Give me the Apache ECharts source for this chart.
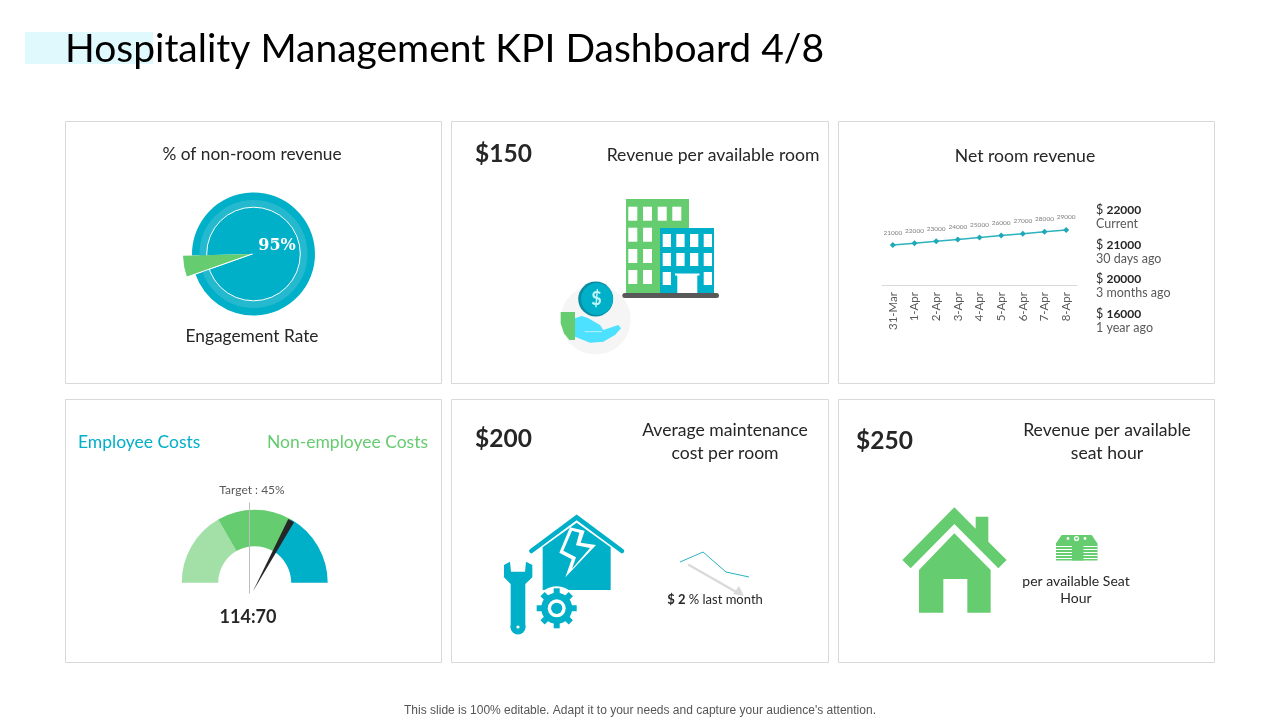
<!DOCTYPE html>
<html>
<head>
<meta charset="utf-8">
<title>Hospitality Management KPI Dashboard</title>
<script src="https://cdn.jsdelivr.net/npm/echarts@6/dist/echarts.min.js"></script>
<style>
html,body{margin:0;padding:0;background:#fff}
#main{width:1280px;height:720px}
</style>
</head>
<body>
<div id="main"></div>
<script>
// data
var revenueDays = ['31-Mar','1-Apr','2-Apr','3-Apr','4-Apr','5-Apr','6-Apr','7-Apr','8-Apr'];
var netRevenue = [21000,22000,23000,24000,25000,26000,27000,28000,29000];
var revenueHistory = [22000,21000,20000,16000];
var historyLabels = ['Current','30 days ago','3 months ago','1 year ago'];
var engagement = [95,5];
var costZones = [60,60,60];
var maintenanceDays = ['a','b','c','d'];
var maintenanceTrend = [3.5,4.5,2.5,2];

var TEAL = '#00AFC8', GREEN = '#66CC70', LIGHTGREEN = '#A3E0A8', INK = '#262626';
var FONT = 'Lato';

var g = [];
function text(x,y,s,size,color,align,extra){
    var st = {x:x,y:y,text:s,fontSize:size,fill:color||INK,fontFamily:FONT,align:align||'center',verticalAlign:'middle'};
    for (var k in extra) st[k] = extra[k];
    g.push({type:'text',z:50,silent:true,style:st});
}
function rect(x,y,w,h,fill,r,z){
    g.push({type:'rect',z:z||20,silent:true,shape:{x:x,y:y,width:w,height:h,r:r||0},style:{fill:fill}});
}
function circle(x,y,r,fill,stroke,lw,z){
    g.push({type:'circle',z:z||20,silent:true,shape:{cx:x,cy:y,r:r},style:{fill:fill||'none',stroke:stroke||null,lineWidth:lw||0}});
}
// polygons are noted in zoomed crop coordinates, so scale back here
function zoomed(ox,oy,pts){ return pts.map(function(p){return [ox+p[0]/3,oy+p[1]/3];}); }
function poly(points,fill,z){
    g.push({type:'polygon',z:z||20,silent:true,shape:{points:points},style:{fill:fill}});
}
function line(points,stroke,lw,z){
    g.push({type:'polyline',z:z||20,silent:true,shape:{points:points},style:{stroke:stroke,lineWidth:lw,fill:'none',lineCap:'round',lineJoin:'miter'}});
}

// header + footer
rect(25,32,128,32,'#DFF9FD',0,1);
text(65,49,'Hospitality Management KPI Dashboard 4/8',39,'#000','left');
text(640,711,"This slide is 100% editable. Adapt it to your needs and capture your audience's attention.",12,'#555','center',{fontFamily:'Liberation Sans'});

// cards
[[65,121,376,262],[451,121,377,262],[838,121,376,262],[65,399,376,263],[451,399,377,263],[838,399,376,263]].forEach(function(c){
    g.push({type:'rect',z:0,silent:true,shape:{x:c[0]+0.5,y:c[1]+0.5,width:c[2],height:c[3]},style:{fill:'#fff',stroke:'#D9D9D9',lineWidth:1}});
});

// card titles
text(252,154.5,'% of non-room revenue',17.3);
text(252,336,'Engagement Rate',17.3);
text(475,154,'$150',24.5,INK,'left',{fontWeight:'bold'});
text(713,155,'Revenue per available room',17.6);
text(1025,156,'Net room revenue',17.6);
text(78,442,'Employee Costs',17.5,TEAL,'left');
text(428,442,'Non-employee Costs',17.5,GREEN,'right');
text(252,490,'Target : 45%',12,'#595959');
text(248,617,'114:70',18,INK,'center',{fontWeight:'bold'});
text(475,439,'$200',24.5,INK,'left',{fontWeight:'bold'});
text(725,430,'Average maintenance',17.6);
text(725,453,'cost per room',17.6);
text(856,441,'$250',24.5,INK,'left',{fontWeight:'bold'});
text(1107,430,'Revenue per available',17.6);
text(1107,453,'seat hour',17.6);
text(1076,581,'per available Seat',14);
text(1076,598,'Hour',14);

// history list next to the net revenue chart
var histY = [210,245,279,314];
revenueHistory.forEach(function(v,i){
    g.push({type:'text',z:50,silent:true,style:{x:1096,y:histY[i],text:'{a|$ }{b|'+v+'}',verticalAlign:'middle',
        rich:{a:{fontSize:12.5,fill:INK,fontFamily:FONT},b:{fontSize:12,fontWeight:'bold',fill:INK,fontFamily:FONT}}}});
    text(1096,histY[i]+13.5,historyLabels[i],12.5,'#595959','left');
});

// engagement dial decoration
circle(253.5,254,50.5,null,'#24B9CE',7,21);
circle(253.5,254,46.8,null,'#fff',1,22);
line([[252,254],[187,277]],'#fff',1,31);
text(277,246,'95%',16,'#fff','center',{fontFamily:'DejaVu Serif',fontWeight:'bold'});

// cost gauge needle and target line
line([[249.5,503],[249.5,593]],'#BDBDBD',1,25);
poly([[252.7,591.7],[288.3,519],[294,522.3]],'#262626',24);

// buildings
rect(626,199,63,94,GREEN);
[206.7,227.7,249,270].forEach(function(y,r){
    (r==0?[628.3,643,657.7,672.3]:[628.3,643]).forEach(function(x){ rect(x,y,9,14,'#fff',0,21); });
});
rect(660,228,54,65,TEAL,0,22);
[234,253,272].forEach(function(y,r){
    (r==2?[662.7,703.7]:[662.7,676.3,690,703.7]).forEach(function(x){ rect(x,y,8.3,13,'#fff',0,23); });
});
rect(677.3,275,20,18,'#fff',0,23);
rect(675,273.5,24.5,2,'#fff',0,23);
rect(622.3,293,96.7,5,'#595959',2.5,24);
// hand and coin
circle(595.7,319.5,35,'#F5F5F5');
poly(zoomed(540,190,[[62,366],[105,366],[105,450],[88,450],[72,430],[62,400]]),GREEN,23);
poly(zoomed(540,190,[[105,385],[125,378],[145,385],[180,405],[190,420],[235,405],[243,415],[225,435],[190,455],[150,458],[105,440]]),'#4DE0FF',22);
line(zoomed(540,190,[[135,425],[185,425]]),'#fff',0.6,23);
circle(595.7,299,17.5,'#0B8CA3',null,0,24);
circle(597,299,16,TEAL,null,0,25);
text(596.5,299.5,'$',18,'#BDF4F8','center',{fontWeight:'bold'});

// maintenance house
poly(zoomed(490,500,[[260,68],[362,142],[362,270],[158,270],[158,142]]),TEAL,21);
line(zoomed(490,500,[[124,153],[260,52],[396,153]]),TEAL,4.5,22);
poly(zoomed(490,500,[[240,82],[208,158],[245,178],[226,232],[318,135],[272,128],[284,92]]),'#fff',23);
poly(zoomed(490,500,[[246,92],[220,152],[258,172],[246,206],[300,144],[258,136],[268,98]]),TEAL,24);
// gear
circle(556.7,608.3,22,'#fff',null,0,25);
[0,45,90,135].forEach(function(a){
    g.push({type:'rect',z:26,silent:true,rotation:a*Math.PI/180,x:556.7,y:608.3,shape:{x:-20,y:-3,width:40,height:6},style:{fill:TEAL}});
});
circle(556.7,608.3,15.5,TEAL,null,0,27);
circle(556.7,608.3,9,'#fff',null,0,28);
circle(556.7,608.3,5.6,TEAL,null,0,29);
// wrench
poly(zoomed(490,500,[[42,195],[60,185],[63,215],[105,215],[108,185],[127,195],[127,232],[106,252],[106,385],[62,385],[62,252],[42,232]]),TEAL,30);
circle(518,627,7.5,TEAL,null,0,30);
circle(518,627,1.6,'#fff',null,0,31);
// down arrow behind the small trend line
line([[689,565],[738,593]],'#DADADA',2.5,3);
poly([[744,596],[733,594],[739,586]],'#DADADA',3);
text(715,599.5,'{b|$ 2}{c| % last month}',13,INK,'center',{rich:{b:{fontSize:13,fontWeight:'bold',fill:INK,fontFamily:FONT},c:{fontSize:13,fill:INK,fontFamily:FONT}}});

// home icon
poly(zoomed(890,500,[[193,22],[257,86],[257,50],[295,50],[295,125],[350,180],[325,205],[193,72],[62,205],[37,180]]),GREEN);
poly(zoomed(890,500,[[193,100],[302,210],[302,338],[232,338],[232,237],[160,237],[160,338],[87,338],[87,210]]),GREEN);
// banknotes
poly(zoomed(890,500,[[515,105],[605,105],[622,130],[498,130]]),GREEN);
rect(1056,543,41.5,17.5,GREEN);
[546,549,552,555,558].forEach(function(y){ rect(1056,y,41.5,0.9,'#fff',0,21); });
rect(1072,543,11.5,17.5,GREEN,0,22);
circle(1076.5,538.5,2.6,'#fff',null,0,22);
circle(1076.5,538.5,1.2,GREEN,null,0,23);
circle(1068,538.5,1.4,'#fff',null,0,22);
circle(1085,538.5,1.4,'#fff',null,0,22);

var option = {
    animation:false,
    backgroundColor:'#fff',
    graphic:{elements:g},
    grid:[
        {left:882,top:171,width:195,height:114,containLabel:false},
        {left:680,top:547,width:69,height:50}
    ],
    xAxis:[
        {gridIndex:0,type:'category',data:revenueDays,
            axisLine:{lineStyle:{color:'#D9D9D9'}},axisTick:{show:false},
            axisLabel:{rotate:90,interval:0,fontSize:11.5,color:'#595959',fontFamily:FONT,margin:7}},
        {gridIndex:1,type:'category',data:maintenanceDays,show:false,boundaryGap:false}
    ],
    yAxis:[
        {gridIndex:0,type:'value',min:0,max:60000,show:false},
        {gridIndex:1,type:'value',min:0,max:5,show:false}
    ],
    series:[
        {type:'line',xAxisIndex:0,yAxisIndex:0,data:netRevenue,silent:true,
            symbol:'diamond',symbolSize:6,
            lineStyle:{color:'#2BB3BF',width:1.5},itemStyle:{color:'#1FA8B5'},
            label:{show:true,position:'top',distance:6,fontSize:6.5,color:'#808080',fontFamily:FONT}},
        {type:'line',xAxisIndex:1,yAxisIndex:1,data:maintenanceTrend,silent:true,symbol:'none',
            lineStyle:{color:'#2BB3BF',width:1}},
        {type:'pie',silent:true,center:[253.5,254],radius:[0,61.5],startAngle:199.5,clockwise:true,
            label:{show:false},labelLine:{show:false},z:2,
            data:[{value:engagement[1],itemStyle:{color:'transparent'}},{value:engagement[0],itemStyle:{color:TEAL}}]},
        {type:'pie',silent:true,center:[252,254],radius:[0,69],startAngle:199.5,clockwise:true,
            label:{show:false},labelLine:{show:false},z:30,
            data:[{value:engagement[1],itemStyle:{color:GREEN}},{value:engagement[0],itemStyle:{color:'transparent'}}]},
        {type:'pie',silent:true,center:[254.7,582.7],radius:[36.5,73],startAngle:180,clockwise:true,
            label:{show:false},labelLine:{show:false},z:2,
            data:[
                {value:costZones[0],itemStyle:{color:LIGHTGREEN}},
                {value:costZones[1],itemStyle:{color:GREEN}},
                {value:costZones[2],itemStyle:{color:TEAL}},
                {value:costZones[0]+costZones[1]+costZones[2],itemStyle:{color:'transparent'}}
            ]}
    ]
};
var chart = echarts.init(document.getElementById('main'));
chart.setOption(option);
</script>
</body>
</html>
